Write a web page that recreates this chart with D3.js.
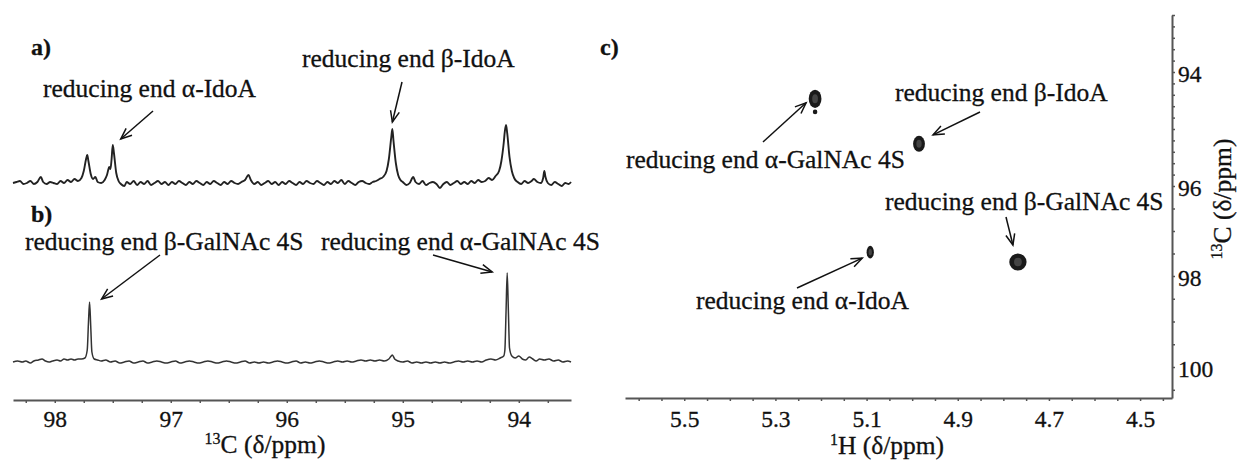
<!DOCTYPE html>
<html>
<head>
<meta charset="utf-8">
<script src="https://cdn.jsdelivr.net/npm/d3@7"></script>
<style>
  body { margin: 0; background: #fff; }
  svg { display: block; font-family: "Liberation Serif", "Times New Roman", serif; }
  .axis .domain { stroke: #555; stroke-width: 2; }
  .axis .tick line { stroke: #555; stroke-width: 1.5; }
  .axis text { fill: #111; stroke: #111; stroke-width: 0.3; }
  .lbl { fill: #111; stroke: #111; stroke-width: 0.3; }
</style>
</head>
<body>
<svg id="chart"></svg>
<script>
// ---- data ----

// 13C tick labels (panels a/b), 1H and 13C tick labels (panel c)
const ticksC1D = [98, 97, 96, 95, 94];
const ticksH = [5.5, 5.3, 5.1, 4.9, 4.7, 4.5];
const ticksC2D = [94, 96, 98, 100];

// spectrum a) : [ppm, intensity]
const spectrumA = [
  [98.36,0],[98.33,1],[98.30,2],[98.27,-1],[98.24,0],[98.21,2],[98.18,-1],[98.15,1],[98.12,6],[98.10,1],
  [98.07,-1],[98.04,1],[98.01,0],[97.98,-1],[97.95,2],[97.92,0],[97.89,3],[97.86,1],[97.83,4],[97.80,2],
  [97.77,5],[97.75,12],[97.73,24],[97.72,28],[97.71,22],[97.69,9],[97.67,4],[97.65,6],[97.63,1],[97.60,0],
  [97.57,3],[97.55,8],[97.53,16],[97.52,14],[97.51,24],[97.50,38],[97.49,30],[97.47,10],[97.45,2],[97.43,-1],
  [97.40,-3],[97.38,1],[97.35,-1],[97.32,2],[97.29,-2],[97.26,1],[97.23,-1],[97.20,2],[97.17,-2],[97.14,0],
  [97.11,2],[97.08,-1],[97.05,1],[97.02,-2],[96.99,1],[96.96,-1],[96.93,2],[96.90,0],[96.87,-2],[96.84,1],
  [96.81,-1],[96.78,2],[96.75,0],[96.72,-2],[96.69,1],[96.66,-1],[96.63,2],[96.60,0],[96.57,-2],[96.54,1],
  [96.51,-1],[96.48,2],[96.45,0],[96.42,-1],[96.39,1],[96.36,3],[96.33,8],[96.31,3],[96.28,-1],[96.25,1],
  [96.22,-2],[96.19,0],[96.16,2],[96.13,-1],[96.10,1],[96.07,-2],[96.04,1],[96.01,-1],[95.98,2],[95.95,0],
  [95.92,-2],[95.89,1],[95.86,-1],[95.83,2],[95.80,0],[95.77,-1],[95.74,2],[95.71,0],[95.68,-2],[95.65,1],
  [95.62,-1],[95.59,2],[95.56,0],[95.53,3],[95.50,-1],[95.47,2],[95.44,0],[95.41,-2],[95.38,1],[95.35,2],
  [95.32,0],[95.29,-1],[95.26,1],[95.23,2],[95.20,4],[95.17,6],[95.14,12],[95.12,24],[95.10,45],[95.09,54],
  [95.08,42],[95.06,20],[95.04,8],[95.02,3],[95.00,1],[94.97,-2],[94.94,0],[94.91,6],[94.89,1],[94.86,-1],
  [94.83,2],[94.80,-2],[94.77,0],[94.74,1],[94.71,-1],[94.68,-5],[94.65,-1],[94.62,1],[94.59,-2],[94.56,0],
  [94.53,2],[94.50,-1],[94.47,1],[94.44,-1],[94.41,2],[94.38,0],[94.35,3],[94.32,1],[94.29,2],[94.26,5],
  [94.23,3],[94.20,7],[94.17,12],[94.15,22],[94.13,40],[94.12,52],[94.11,58],[94.10,50],[94.08,26],[94.06,12],
  [94.04,5],[94.01,1],[93.98,-1],[93.95,2],[93.92,0],[93.89,2],[93.87,4],[93.84,1],[93.81,0],[93.79,5],
  [93.78,12],[93.77,6],[93.75,0],[93.72,-2],[93.69,1],[93.66,-1],[93.63,-3],[93.60,0],[93.57,-1],[93.55,1]
];

// spectrum b) : [ppm, intensity]
const spectrumB = [
  [98.36,0],[98.32,1],[98.28,0],[98.25,1],[98.21,-1],[98.18,1],[98.14,2],[98.11,3],[98.08,1],[98.05,0],
  [98.02,1],[97.98,2],[97.95,1],[97.92,3],[97.89,2],[97.86,3],[97.83,2],[97.80,3],[97.77,3],[97.74,4],
  [97.72,12],[97.71,38],[97.70,60],[97.69,36],[97.68,10],[97.66,3],[97.63,2],[97.60,1],[97.56,2],[97.52,0],
  [97.48,1],[97.44,-1],[97.40,0],[97.36,1],[97.32,-1],[97.28,0],[97.24,1],[97.20,-1],[97.16,0],[97.12,1],
  [97.08,0],[97.04,-1],[97.00,0],[96.96,1],[96.92,-1],[96.88,0],[96.84,1],[96.80,0],[96.76,-1],[96.72,0],
  [96.68,1],[96.64,0],[96.60,-1],[96.56,0],[96.52,1],[96.48,0],[96.44,-1],[96.40,0],[96.36,1],[96.32,-1],
  [96.28,0],[96.24,-1],[96.20,0],[96.16,-1],[96.12,0],[96.08,1],[96.04,0],[96.00,-1],[95.96,0],[95.92,1],
  [95.88,-1],[95.84,0],[95.80,-1],[95.76,0],[95.72,1],[95.68,0],[95.64,-1],[95.60,0],[95.56,1],[95.52,0],
  [95.48,1],[95.44,0],[95.40,1],[95.36,2],[95.32,1],[95.28,2],[95.24,1],[95.20,2],[95.16,1],[95.12,3],
  [95.10,6],[95.09,7],[95.07,3],[95.04,1],[95.00,0],[94.96,1],[94.92,-1],[94.88,0],[94.84,-1],[94.80,0],
  [94.76,-1],[94.72,0],[94.68,-1],[94.64,0],[94.60,-1],[94.56,0],[94.52,1],[94.48,0],[94.44,1],[94.40,0],
  [94.36,1],[94.32,0],[94.28,2],[94.24,3],[94.20,2],[94.16,4],[94.13,6],[94.12,12],[94.11,50],[94.10,89],
  [94.09,52],[94.08,14],[94.06,6],[94.03,4],[94.00,6],[93.97,3],[93.94,2],[93.91,5],[93.88,3],[93.85,1],
  [93.82,3],[93.78,2],[93.74,3],[93.70,1],[93.66,2],[93.62,0],[93.58,1],[93.55,0]
];

// labelled peaks in the 1D spectra
const peakNamesA = ["reducing end α-IdoA", "reducing end β-IdoA"];
const peakPpmA = [97.50, 95.09];
const peakNamesB = ["reducing end β-GalNAc 4S", "reducing end α-GalNAc 4S"];
const peakPpmB = [97.70, 94.10];

// HSQC cross peaks (panel c)
const crossNames = ["reducing end α-GalNAc 4S", "reducing end β-IdoA", "reducing end β-GalNAc 4S", "reducing end α-IdoA", ""];
const crossH = [5.213, 4.985, 4.768, 5.092, 5.213];
const crossC = [94.47, 95.26, 97.69, 97.47, 94.70];
const crossWidthH = [0.014, 0.013, 0.019, 0.008, 0.005];   // half widths, ppm
const crossWidthC = [0.16, 0.14, 0.19, 0.14, 0.04];

// ---- layout ----
const W = 1237, H = 462;
const FONT = '"Liberation Serif", "Times New Roman", serif';
const svg = d3.select("#chart").attr("width", W).attr("height", H);
svg.append("rect").attr("width", W).attr("height", H).attr("fill", "#fff");

const xC = d3.scaleLinear().domain([98.36, 93.55]).range([13, 571]);
const yA = d3.scaleLinear().domain([0, 60]).range([183, 123]);
const yB = d3.scaleLinear().domain([0, 90]).range([362, 272]);

const xH = d3.scaleLinear().domain([5.63, 4.43]).range([625, 1172]);
// the 13C axis of panel c is not evenly spaced in the figure
const yC = d3.scaleLinear()
  .domain([93.0, 94, 96, 98, 100, 100.68])
  .range([15, 72, 186, 276, 367, 398]);

// arrow head
svg.append("defs").append("marker")
  .attr("id", "arrow")
  .attr("viewBox", "-12 -6 14 12")
  .attr("markerWidth", 14).attr("markerHeight", 12)
  .attr("markerUnits", "userSpaceOnUse")
  .attr("orient", "auto")
  .append("path")
  .attr("d", "M-11,-4.5 L0,0 L-11,4.5")
  .attr("fill", "none").attr("stroke", "#111").attr("stroke-width", 1.5);

function arrow(x1, y1, x2, y2) {
  svg.append("line")
    .attr("x1", x1).attr("y1", y1).attr("x2", x2).attr("y2", y2)
    .attr("stroke", "#111").attr("stroke-width", 1.5)
    .attr("marker-end", "url(#arrow)");
}

function label(x, y, txt, size, weight) {
  return svg.append("text")
    .attr("class", "lbl")
    .attr("x", x).attr("y", y)
    .attr("font-family", FONT)
    .attr("font-size", size).attr("font-weight", weight || "normal")
    .text(txt);
}

// ---- panels a) and b) ----
const line1D = yScale => d3.line()
  .x(d => xC(d[0]))
  .y(d => yScale(d[1]))
  .curve(d3.curveMonotoneX);

svg.append("path").datum(spectrumA)
  .attr("d", line1D(yA))
  .attr("fill", "none").attr("stroke", "#222").attr("stroke-width", 1.9);

svg.append("path").datum(spectrumB)
  .attr("d", line1D(yB))
  .attr("fill", "none").attr("stroke", "#333").attr("stroke-width", 1.5);

const heightAt = (spec, ppm) => spec.find(d => Math.abs(d[0] - ppm) < 0.001)[1];

label(31, 55, "a)", 24, "bold");
label(31, 222, "b)", 24, "bold");

// text position, arrow start, arrow tip offset from peak top
const layoutA = [
  { tx: 43, ty: 97, ax: 153, ay: 111, dx: 8, dy: -6 },
  { tx: 302, ty: 67, ax: 402, ay: 82, dx: 0, dy: -7 }
];
const layoutB = [
  { tx: 25, ty: 250, ax: 160, ay: 255, dx: 12, dy: -3 },
  { tx: 321, ty: 250, ax: 433, ay: 255, dx: -15, dy: -1 }
];

peakNamesA.forEach((name, i) => {
  const L = layoutA[i];
  label(L.tx, L.ty, name, 25.5);
  arrow(L.ax, L.ay, xC(peakPpmA[i]) + L.dx, yA(heightAt(spectrumA, peakPpmA[i])) + L.dy);
});
peakNamesB.forEach((name, i) => {
  const L = layoutB[i];
  label(L.tx, L.ty, name, 25.5);
  arrow(L.ax, L.ay, xC(peakPpmB[i]) + L.dx, yB(heightAt(spectrumB, peakPpmB[i])) + L.dy);
});

function styleLabels(g, size) {
  g.attr("font-family", FONT);
  g.select(".domain").remove();
  g.selectAll("text").attr("font-family", FONT).attr("font-size", size);
}

// 13C axis, panels a/b
const axC = svg.append("g").attr("class", "axis").attr("transform", "translate(0,400)");
axC.call(d3.axisBottom(xC)
  .tickValues(d3.range(93.75, 98.36, 0.25))
  .tickSize(3).tickSizeOuter(0).tickFormat(""));
const axCLab = svg.append("g").attr("class", "axis").attr("transform", "translate(0,400)");
axCLab.call(d3.axisBottom(xC).tickValues(ticksC1D).tickSize(0).tickPadding(10).tickFormat(d3.format("d")));
styleLabels(axCLab, 23.5);

const tC = svg.append("text").attr("class", "lbl").attr("x", 265).attr("y", 453)
  .attr("font-family", FONT).attr("text-anchor", "middle").attr("font-size", 25.5);
tC.append("tspan").attr("font-size", 16).attr("dy", -9).text("13");
tC.append("tspan").attr("dy", 9).text("C (δ/ppm)");

// ---- panel c) ----
label(600, 55, "c)", 24, "bold");

const peaks2D = crossH.map((h, i) => ({ name: crossNames[i], h, c: crossC[i], wh: crossWidthH[i], wc: crossWidthC[i] }));

const spots = svg.append("g").selectAll("g").data(peaks2D).join("g");
spots.append("ellipse")
  .attr("cx", d => xH(d.h)).attr("cy", d => yC(d.c))
  .attr("rx", d => Math.abs(xH(d.h + d.wh) - xH(d.h)))
  .attr("ry", d => Math.abs(yC(d.c + d.wc) - yC(d.c)))
  .attr("fill", "#1a1a1a");
spots.filter(d => d.name !== "").append("ellipse")
  .attr("cx", d => xH(d.h)).attr("cy", d => yC(d.c))
  .attr("rx", d => Math.abs(xH(d.h + d.wh) - xH(d.h)) * 0.45)
  .attr("ry", d => Math.abs(yC(d.c + d.wc) - yC(d.c)) * 0.5)
  .attr("fill", "#444");

const layoutC = [
  { tx: 626, ty: 168, ax: 763, ay: 142, dx: -9, dy: 4 },
  { tx: 895, ty: 101, ax: 980, ay: 112, dx: 14, dy: -9 },
  { tx: 885, ty: 210, ax: 1006, ay: 217, dx: -5, dy: -17 },
  { tx: 696, ty: 309, ax: 797, ay: 288, dx: -8, dy: 6 }
];
layoutC.forEach((L, i) => {
  label(L.tx, L.ty, crossNames[i], 25.5);
  arrow(L.ax, L.ay, xH(crossH[i]) + L.dx, yC(crossC[i]) + L.dy);
});

// 1H axis
const axH = svg.append("g").attr("class", "axis").attr("transform", "translate(0,398)");
axH.call(d3.axisBottom(xH).ticks(24).tickSize(3).tickSizeOuter(0).tickFormat(""));
const axHLab = svg.append("g").attr("class", "axis").attr("transform", "translate(0,398)");
axHLab.call(d3.axisBottom(xH).tickValues(ticksH).tickSize(0).tickPadding(12).tickFormat(d3.format(".1f")));
styleLabels(axHLab, 23.5);

const tH = svg.append("text").attr("class", "lbl").attr("x", 887).attr("y", 454)
  .attr("font-family", FONT).attr("text-anchor", "middle").attr("font-size", 25.5);
tH.append("tspan").attr("font-size", 16).attr("dy", -9).text("1");
tH.append("tspan").attr("dy", 9).text("H (δ/ppm)");

// 13C axis, panel c
const axC2 = svg.append("g").attr("class", "axis").attr("transform", "translate(1172,0)");
axC2.call(d3.axisRight(yC)
  .tickValues(d3.range(93.0, 95.99, 0.2).concat(d3.range(96, 100.6, 0.5)))
  .tickSize(3).tickSizeOuter(0).tickFormat(""));
const axC2Lab = svg.append("g").attr("class", "axis").attr("transform", "translate(1172,0)");
axC2Lab.call(d3.axisRight(yC).tickValues(ticksC2D).tickSize(0).tickPadding(6).tickFormat(d3.format("d")));
styleLabels(axC2Lab, 23.5);
axC2Lab.selectAll("text").attr("dy", "0.4em");

const tC2 = svg.append("text").attr("class", "lbl")
  .attr("transform", "translate(1231,199) rotate(-90)")
  .attr("font-family", FONT).attr("text-anchor", "middle").attr("font-size", 25.5);
tC2.append("tspan").attr("font-size", 16).attr("dy", -9).text("13");
tC2.append("tspan").attr("dy", 9).text("C (δ/ppm)");
</script>
</body>
</html>
